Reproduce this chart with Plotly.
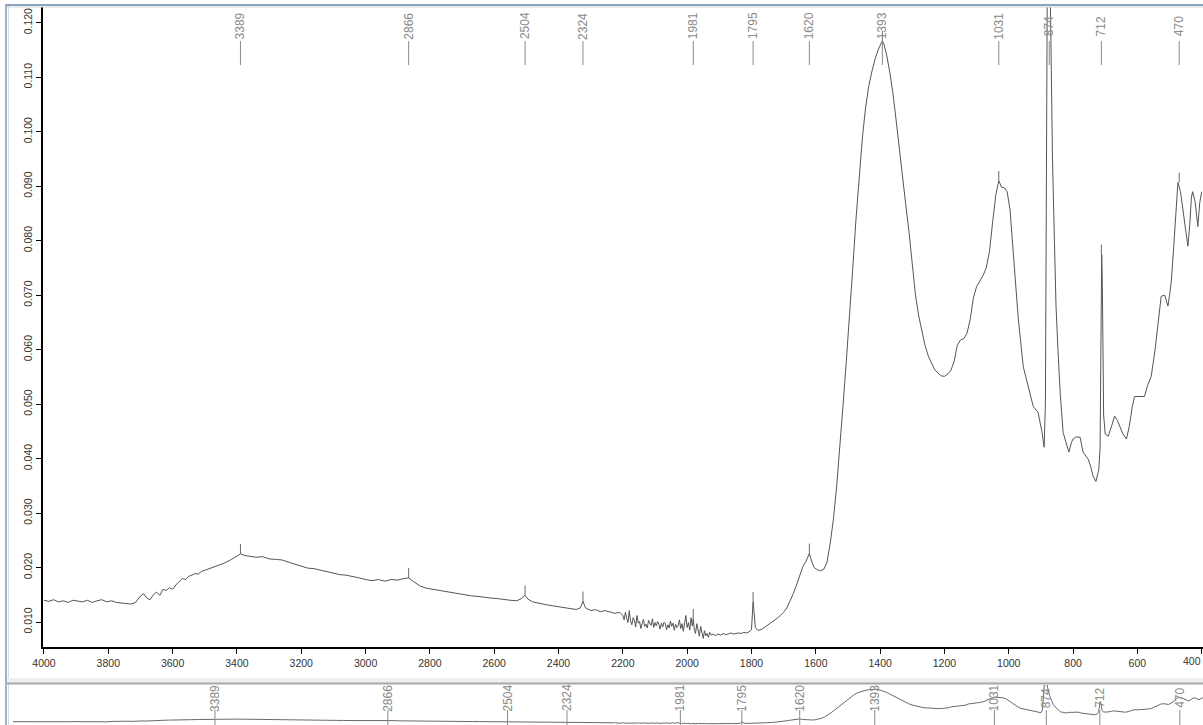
import plotly.graph_objects as go

W, H = 1203, 725

wavenumber = [
    4000, 3985, 3970, 3955, 3940, 3925, 3910, 3895, 3880, 3865, 3850, 3835, 3820, 3805, 3790, 3775,
    3760, 3745, 3730, 3715, 3700, 3690, 3680, 3670, 3660, 3650, 3640, 3630, 3620, 3610, 3600, 3590,
    3580, 3570, 3560, 3550, 3540, 3530, 3520, 3510, 3500, 3480, 3460, 3440, 3420, 3400, 3389, 3375,
    3360, 3340, 3320, 3300, 3280, 3260, 3240, 3220, 3200, 3180, 3160, 3140, 3120, 3100, 3080, 3060,
    3040, 3020, 3000, 2980, 2960, 2940, 2920, 2900, 2880, 2866, 2850, 2830, 2810, 2790, 2770, 2750,
    2730, 2710, 2690, 2670, 2650, 2630, 2610, 2590, 2570, 2550, 2530, 2515, 2504, 2495, 2480, 2460,
    2440, 2420, 2400, 2380, 2360, 2345, 2332, 2324, 2316, 2300, 2285, 2270, 2255, 2240, 2225, 2210,
    2200, 2196, 2192, 2188, 2184, 2180, 2176, 2172, 2168, 2164, 2160, 2156, 2152, 2148, 2144, 2140,
    2136, 2132, 2128, 2124, 2120, 2116, 2112, 2108, 2104, 2100, 2096, 2092, 2088, 2084, 2080, 2076,
    2072, 2068, 2064, 2060, 2056, 2052, 2048, 2044, 2040, 2036, 2032, 2028, 2024, 2020, 2016, 2012,
    2008, 2004, 2000, 1996, 1992, 1988, 1984, 1981, 1978, 1974, 1970, 1966, 1962, 1958, 1954, 1950,
    1946, 1942, 1938, 1934, 1930, 1925, 1920, 1912, 1904, 1896, 1888, 1880, 1872, 1864, 1856, 1848,
    1840, 1832, 1824, 1816, 1808, 1800, 1797, 1795, 1792, 1788, 1780, 1770, 1760, 1750, 1740, 1730,
    1720, 1710, 1700, 1690, 1680, 1670, 1660, 1650, 1640, 1630, 1620, 1612, 1605, 1595, 1585, 1575,
    1565, 1555, 1545, 1535, 1525, 1515, 1505, 1495, 1485, 1475, 1465, 1455, 1445, 1435, 1425, 1415,
    1405, 1398, 1393, 1388, 1380, 1370, 1360, 1350, 1340, 1330, 1320, 1310, 1300, 1290, 1280, 1270,
    1260, 1250, 1240, 1230, 1220, 1210, 1200, 1190, 1180, 1170, 1160, 1150, 1140, 1130, 1120, 1110,
    1100, 1090, 1080, 1070, 1060, 1050, 1040, 1031, 1022, 1013, 1005, 996, 986, 971, 955, 940,
    924, 909, 897, 890, 886, 883, 880, 872, 868, 864, 858, 853, 847, 840, 831, 822,
    813, 805, 800, 790, 778, 769, 760, 753, 745, 738, 729, 720, 716, 713, 711, 709,
    707, 705, 700, 691, 680, 671, 662, 655, 645, 634, 625, 616, 609, 595, 578, 568,
    557, 545, 535, 526, 515, 505, 500, 495, 488, 480, 474, 466, 458, 450, 443, 437,
    432, 428, 420, 412, 406, 400,
]

absorbance = [
    0.0140, 0.0138, 0.0141, 0.0137, 0.0139, 0.0136, 0.0140, 0.0138, 0.0137, 0.0140, 0.0136, 0.0139, 0.0141, 0.0137, 0.0139, 0.0136,
    0.0135, 0.0134, 0.0133, 0.0136, 0.0148, 0.0152, 0.0144, 0.0141, 0.0150, 0.0155, 0.0149, 0.0160, 0.0158, 0.0163, 0.0160, 0.0168,
    0.0175, 0.0180, 0.0178, 0.0184, 0.0186, 0.0189, 0.0188, 0.0193, 0.0195, 0.0199, 0.0203, 0.0208, 0.0214, 0.0222, 0.0225, 0.0222,
    0.0221, 0.0219, 0.0220, 0.0216, 0.0215, 0.0214, 0.0210, 0.0206, 0.0203, 0.0199, 0.0198, 0.0195, 0.0193, 0.0190, 0.0187, 0.0186,
    0.0184, 0.0181, 0.0178, 0.0176, 0.0178, 0.0175, 0.0178, 0.0177, 0.0180, 0.0181, 0.0174, 0.0166, 0.0162, 0.0160, 0.0157, 0.0155,
    0.0153, 0.0151, 0.0150, 0.0148, 0.0147, 0.0145, 0.0144, 0.0143, 0.0141, 0.0140, 0.0139, 0.0143, 0.0149, 0.0142, 0.0137, 0.0134,
    0.0132, 0.0130, 0.0128, 0.0127, 0.0124, 0.0123, 0.0126, 0.0138, 0.0126, 0.0121, 0.0123, 0.0119, 0.0121, 0.0118, 0.0116, 0.0118,
    0.0112, 0.0104, 0.0118, 0.0107, 0.0099, 0.0121, 0.0102, 0.0095, 0.0108, 0.0103, 0.0091, 0.0112, 0.0098, 0.0101, 0.0088, 0.0097,
    0.0105, 0.0092, 0.0096, 0.0089, 0.0103, 0.0098, 0.0094, 0.0106, 0.0090, 0.0099, 0.0093, 0.0101, 0.0096, 0.0087, 0.0098, 0.0091,
    0.0100, 0.0097, 0.0086, 0.0095, 0.0089, 0.0102, 0.0092, 0.0098, 0.0085, 0.0096, 0.0090, 0.0093, 0.0104, 0.0088, 0.0097, 0.0083,
    0.0095, 0.0112, 0.0090, 0.0099, 0.0085, 0.0108, 0.0093, 0.0106, 0.0087, 0.0079, 0.0097, 0.0082, 0.0074, 0.0092, 0.0078, 0.0070,
    0.0084, 0.0075, 0.0079, 0.0072, 0.0081, 0.0076, 0.0078, 0.0075, 0.0078, 0.0076, 0.0079, 0.0077, 0.0078, 0.0080, 0.0078, 0.0079,
    0.0080, 0.0079, 0.0081, 0.0080, 0.0082, 0.0086, 0.0120, 0.0137, 0.0118, 0.0090, 0.0085, 0.0086, 0.0090, 0.0094, 0.0099, 0.0103,
    0.0107, 0.0112, 0.0118, 0.0126, 0.0138, 0.0152, 0.0168, 0.0185, 0.0202, 0.0212, 0.0226, 0.0210, 0.0200, 0.0196, 0.0194, 0.0197,
    0.0210, 0.0245, 0.0290, 0.0350, 0.0420, 0.0500, 0.0580, 0.0660, 0.0750, 0.0840, 0.0920, 0.0990, 0.1045, 0.1085, 0.1112, 0.1135,
    0.1152, 0.1162, 0.1167, 0.1160, 0.1142, 0.1110, 0.1070, 0.1020, 0.0965, 0.0910, 0.0865, 0.0815, 0.0755, 0.0700, 0.0662, 0.0632,
    0.0607, 0.0588, 0.0574, 0.0563, 0.0557, 0.0552, 0.0551, 0.0555, 0.0562, 0.0578, 0.0608, 0.0618, 0.0620, 0.0630, 0.0655, 0.0695,
    0.0716, 0.0726, 0.0736, 0.0750, 0.0780, 0.0835, 0.0885, 0.0910, 0.0898, 0.0897, 0.0890, 0.0857, 0.0784, 0.0661, 0.0569, 0.0533,
    0.0496, 0.0485, 0.0450, 0.0421, 0.0500, 0.0900, 0.1300, 0.1300, 0.1100, 0.0950, 0.0800, 0.0680, 0.0600, 0.0520, 0.0448, 0.0430,
    0.0412, 0.0430, 0.0436, 0.0440, 0.0439, 0.0412, 0.0405, 0.0399, 0.0385, 0.0368, 0.0358, 0.0380, 0.0420, 0.0650, 0.0775, 0.0720,
    0.0580, 0.0480, 0.0445, 0.0441, 0.0460, 0.0478, 0.0470, 0.0460, 0.0445, 0.0436, 0.0460, 0.0495, 0.0514, 0.0514, 0.0514, 0.0535,
    0.0551, 0.0600, 0.0650, 0.0698, 0.0700, 0.0680, 0.0700, 0.0723, 0.0780, 0.0860, 0.0907, 0.0890, 0.0850, 0.0820, 0.0790, 0.0830,
    0.0880, 0.0890, 0.0870, 0.0826, 0.0870, 0.0890,
]

peak_wn = [3389, 2866, 2504, 2324, 1981, 1795, 1620, 1393, 1031, 874, 712, 470]
peak_abs = [0.0225, 0.0181, 0.0149, 0.0138, 0.0106, 0.0137, 0.0226, 0.1167, 0.0910, 0.1300, 0.0775, 0.0907]
peak_labels = [str(p) for p in peak_wn]

x_ticks = [4000, 3800, 3600, 3400, 3200, 3000, 2800, 2600, 2400, 2200, 2000, 1800, 1600, 1400, 1200, 1000, 800, 600, 400]
# the last tick label (400) sits on the right edge; it is drawn as an edge-anchored annotation
x_tick_text = [str(t) for t in x_ticks[:-1]] + [""]
y_ticks = [0.010, 0.020, 0.030, 0.040, 0.050, 0.060, 0.070, 0.080, 0.090, 0.100, 0.110, 0.120]
y_tick_text = ["%.3f" % v for v in y_ticks]


def fx(p):
    return p / W


def fy(p):
    return 1 - p / H


FONT = "Liberation Sans, Arial, sans-serif"
LINE = "#555555"
LABEL = "#8a8a8a"

fig = go.Figure()
fig.add_trace(go.Scatter(x=wavenumber, y=absorbance, mode="lines",
                         line=dict(color=LINE, width=1), xaxis="x", yaxis="y",
                         hoverinfo="skip", showlegend=False))
fig.add_trace(go.Scatter(x=wavenumber, y=absorbance, mode="lines",
                         line=dict(color="#6a6a6a", width=1), xaxis="x2", yaxis="y2",
                         hoverinfo="skip", showlegend=False))

shapes = []
annotations = []

# frame
shapes.append(dict(type="line", xref="paper", yref="paper", x0=fx(6), x1=fx(6), y0=fy(4), y1=fy(725),
                   line=dict(color="#9fb1c6", width=2)))
shapes.append(dict(type="line", xref="paper", yref="paper", x0=fx(8.5), x1=fx(8.5), y0=fy(6), y1=fy(725),
                   line=dict(color="#d3dce6", width=1)))
shapes.append(dict(type="line", xref="paper", yref="paper", x0=fx(6), x1=1, y0=fy(5), y1=fy(5),
                   line=dict(color="#8da2bc", width=2)))
shapes.append(dict(type="line", xref="paper", yref="paper", x0=fx(7), x1=1, y0=fy(7), y1=fy(7),
                   line=dict(color="#cdd7e2", width=1)))
# separator between panels
shapes.append(dict(type="rect", xref="paper", yref="paper", x0=fx(7), x1=1, y0=fy(683), y1=fy(678),
                   fillcolor="#eeeeee", line=dict(width=0)))
shapes.append(dict(type="line", xref="paper", yref="paper", x0=fx(7), x1=1, y0=fy(683.5), y1=fy(683.5),
                   line=dict(color="#a8a8a8", width=2)))

# right-edge x tick label
annotations.append(dict(x=1, y=fy(661), xref="paper", yref="paper", text=str(x_ticks[-1]),
                        showarrow=False, xanchor="right", yanchor="middle",
                        font=dict(family=FONT, size=10.5, color="#333333")))

# top labels and leader lines
for wn, lab in zip(peak_wn, peak_labels):
    shapes.append(dict(type="line", xref="x", yref="paper", x0=wn, x1=wn, y0=fy(41), y1=fy(65),
                       line=dict(color="#8a8a8a", width=1)))
    annotations.append(dict(x=wn, y=fy(26), xref="x", yref="paper", text=lab, showarrow=False,
                            textangle=-90, xanchor="center", yanchor="middle",
                            font=dict(family=FONT, size=12, color=LABEL)))

# peak ticks on the curve
for wn, a in zip(peak_wn, peak_abs):
    if a < 0.12:
        shapes.append(dict(type="line", xref="x", yref="y", x0=wn, x1=wn, y0=a, y1=a + 0.0018,
                           line=dict(color="#6a6a6a", width=1)))

# bottom overview labels
for wn, lab in zip(peak_wn, peak_labels):
    shapes.append(dict(type="line", xref="x2", yref="paper", x0=wn, x1=wn, y0=fy(710), y1=fy(725),
                       line=dict(color="#8a8a8a", width=1)))
    annotations.append(dict(x=wn, y=fy(698), xref="x2", yref="paper", text=lab, showarrow=False,
                            textangle=-90, xanchor="center", yanchor="middle",
                            font=dict(family=FONT, size=12, color=LABEL)))

fig.update_layout(
    width=W, height=H,
    margin=dict(l=0, r=0, t=0, b=0),
    paper_bgcolor="white", plot_bgcolor="white",
    showlegend=False,
    shapes=shapes,
    annotations=annotations,
    xaxis=dict(domain=[fx(43), 1], range=[4003, 396], tickmode="array", tickvals=x_ticks,
               ticktext=x_tick_text, showline=True, linecolor="black", linewidth=2,
               ticks="outside", ticklen=5, tickwidth=1, tickcolor="black", showgrid=False,
               zeroline=False, anchor="y", automargin=False,
               tickfont=dict(family=FONT, size=10.5, color="#333333")),
    yaxis=dict(domain=[fy(647), fy(7)], range=[0.00542, 0.1229], tickmode="array", tickvals=y_ticks,
               ticktext=y_tick_text, tickangle=-90, showline=True, linecolor="black", linewidth=2,
               ticks="outside", ticklen=5, tickwidth=1, tickcolor="black", showgrid=False,
               zeroline=False, anchor="x", automargin=False,
               tickfont=dict(family=FONT, size=10.5, color="#333333")),
    xaxis2=dict(domain=[fx(13), 1], range=[4000, 400], visible=False, anchor="y2"),
    yaxis2=dict(domain=[0, fy(685)], range=[0.0036, 0.129], visible=False, anchor="x2"),
)

fig.write_html("out.html")
